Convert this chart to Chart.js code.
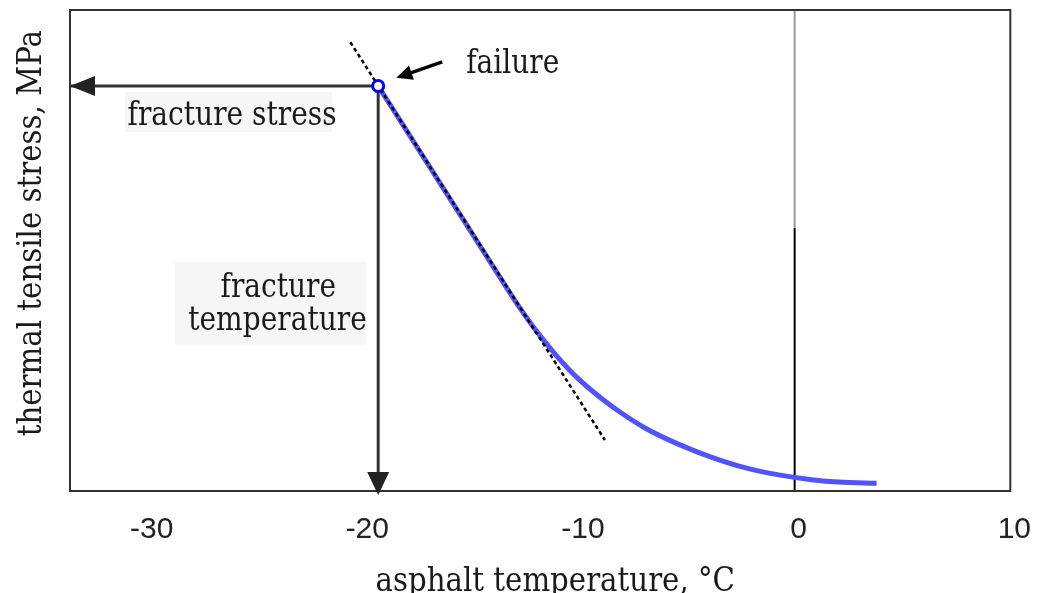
<!DOCTYPE html>
<html>
<head>
<meta charset="utf-8">
<script src="https://cdn.jsdelivr.net/npm/chart.js@4.4.1/dist/chart.umd.min.js"></script>
<style>
    html, body { margin: 0; padding: 0; background: #fff; }
</style>
</head>
<body>
<canvas id="grafico" width="1048" height="593"></canvas>
<script>
// ======================== DADOS ========================
const tempCurva = [-19.31, -16, -14, -13, -12, -11, -10, -9, -8, -6.9, -5.37, -3.84, -2.27, -0.74, 0.79, 2.04, 3.8];
const tensaoCurva = [8.42, 6.09, 4.68, 3.98, 3.34, 2.79, 2.32, 1.94, 1.61, 1.3, 0.97, 0.7, 0.48, 0.335, 0.235, 0.185, 0.16];
const tempTangente = [-20.6, -8.8];
const tensaoTangente = [9.33, 1.06];
const tempRuptura = -19.31;
const tensaoRuptura = 8.42;
const ticksTemp = [-30, -20, -10, 0, 10];
const limitesTemp = [-33.6, 10];
const limitesTensao = [0, 10];
const corteLinhaZero = 5.47; // linha do zero: cinza acima, preta abaixo

const pares = (xs, ys) => xs.map((x, i) => ({ x, y: ys[i] }));

// ======================== ROTULOS (coordenadas de dados) ========================
const rotulos = [
    { txt: 'failure', x: -15.23, y: 8.69, al: 'left' },
    { txt: 'fracture stress', x: -30.93, y: 7.61, al: 'left' },
    { txt: 'fracture', x: -23.94, y: 4.03, al: 'center' },
    { txt: 'temperature', x: -23.98, y: 3.35, al: 'center' },
];
const fundos = [
    { x0: -31.06, x1: -21.44, y0: 8.3, y1: 7.46 },
    { x0: -28.75, x1: -19.86, y0: 4.76, y1: 3.04 },
];
const setaFalha = { de: { x: -16.34, y: 8.92 }, ate: { x: -18.47, y: 8.59 } };

function texto(ctx, txt, x, y, tam, esc, alinhar, rot) {
    ctx.save();
    ctx.translate(x, y);
    if (rot) ctx.rotate(rot);
    ctx.scale(esc, 1);
    ctx.font = tam + 'px "DejaVu Serif", serif';
    ctx.textAlign = alinhar;
    ctx.textBaseline = 'alphabetic';
    ctx.fillStyle = '#1a1a1a';
    ctx.fillText(txt, 0, 0);
    ctx.restore();
}

function ponta(ctx, xp, yp, ang, comp, meia, cor) {
    ctx.save();
    ctx.translate(xp, yp);
    ctx.rotate(ang);
    ctx.beginPath();
    ctx.moveTo(0, 0);
    ctx.lineTo(-comp, -meia);
    ctx.lineTo(-comp, meia);
    ctx.closePath();
    ctx.fillStyle = cor;
    ctx.fill();
    ctx.restore();
}

const anotacoes = {
    id: 'anotacoes',
    beforeDatasetsDraw(chart) {
        const { ctx, scales: { x, y } } = chart;
        ctx.save();
        ctx.fillStyle = '#f6f6f6';
        fundos.forEach((f) => {
            const px0 = x.getPixelForValue(f.x0), px1 = x.getPixelForValue(f.x1);
            const py0 = y.getPixelForValue(f.y0), py1 = y.getPixelForValue(f.y1);
            ctx.fillRect(px0, py0, px1 - px0, py1 - py0);
        });
        ctx.restore();
    },
    afterDatasetsDraw(chart) {
        const { ctx, chartArea: a, scales: { x, y } } = chart;

        // moldura
        ctx.save();
        ctx.strokeStyle = '#333';
        ctx.lineWidth = 2;
        ctx.strokeRect(a.left, a.top, a.right - a.left, a.bottom - a.top);
        ctx.restore();

        // pontas das setas de tensao e temperatura
        const yr = y.getPixelForValue(tensaoRuptura);
        const xr = x.getPixelForValue(tempRuptura);
        ponta(ctx, a.left, yr, Math.PI, 25, 10, '#222');
        ponta(ctx, xr, a.bottom + 4, Math.PI / 2, 23, 11, '#222');

        // seta "failure"
        const x0 = x.getPixelForValue(setaFalha.de.x), y0 = y.getPixelForValue(setaFalha.de.y);
        const x1 = x.getPixelForValue(setaFalha.ate.x), y1 = y.getPixelForValue(setaFalha.ate.y);
        const ang = Math.atan2(y1 - y0, x1 - x0);
        ctx.save();
        ctx.strokeStyle = '#000';
        ctx.lineWidth = 3.5;
        ctx.beginPath();
        ctx.moveTo(x0, y0);
        ctx.lineTo(x1 - Math.cos(ang) * 10, y1 - Math.sin(ang) * 10);
        ctx.stroke();
        ctx.restore();
        ponta(ctx, x1, y1, ang, 16, 7.5, '#000');

        // textos
        rotulos.forEach((r) => {
            texto(ctx, r.txt, x.getPixelForValue(r.x), y.getPixelForValue(r.y), 33, 0.85, r.al);
        });
        texto(ctx, 'asphalt temperature, °C', x.getPixelForValue(-11.1), 591, 34, 0.86, 'center');
        texto(ctx, 'thermal tensile stress, MPa', a.left - 29, y.getPixelForValue(5.36), 34, 0.86, 'center', -Math.PI / 2);
    },
};

const linha = (dados, cor, largura, extra = {}) => ({
    data: dados,
    showLine: true,
    borderColor: cor,
    borderWidth: largura,
    pointRadius: 0,
    fill: false,
    ...extra,
});

new Chart(document.getElementById('grafico'), {
    type: 'scatter',
    data: {
        datasets: [
            {
                data: [{ x: tempRuptura, y: tensaoRuptura }],
                pointRadius: 5.5,
                pointBorderWidth: 3,
                pointBorderColor: '#0000ff',
                pointBackgroundColor: '#fff',
                order: 0,
            },
            linha(pares(tempTangente, tensaoTangente), '#000', 2.5, { borderDash: [4, 3], order: 1 }),
            linha(pares(tempCurva, tensaoCurva), '#5252ff', 5, { cubicInterpolationMode: 'monotone', order: 2 }),
            linha(pares([tempRuptura, limitesTemp[0]], [tensaoRuptura, tensaoRuptura]), '#333', 3, { order: 3 }),
            linha(pares([tempRuptura, tempRuptura], [tensaoRuptura, limitesTensao[0]]), '#333', 3, { order: 3 }),
            linha(pares([0, 0], [limitesTensao[1], corteLinhaZero]), '#9a9a9a', 2, { order: 4 }),
            linha(pares([0, 0], [corteLinhaZero, limitesTensao[0]]), '#000', 2, { order: 4 }),
        ],
    },
    options: {
        responsive: false,
        animation: false,
        layout: { padding: { left: 70, top: 10, right: 36, bottom: 0 } },
        plugins: { legend: { display: false }, tooltip: { enabled: false } },
        scales: {
            x: {
                type: 'linear',
                min: limitesTemp[0],
                max: limitesTemp[1],
                grid: { display: false, drawTicks: false },
                border: { display: false },
                afterBuildTicks: (s) => { s.ticks = ticksTemp.map((v) => ({ value: v })); },
                afterFit: (s) => { s.height = 102; },
                ticks: {
                    padding: 21,
                    labelOffset: 4,
                    color: '#222',
                    font: { family: '"Liberation Sans", Arial, sans-serif', size: 30 },
                    callback: (v) => String(v),
                },
            },
            y: {
                display: false,
                min: limitesTensao[0],
                max: limitesTensao[1],
            },
        },
    },
    plugins: [anotacoes],
});
</script>
</body>
</html>
